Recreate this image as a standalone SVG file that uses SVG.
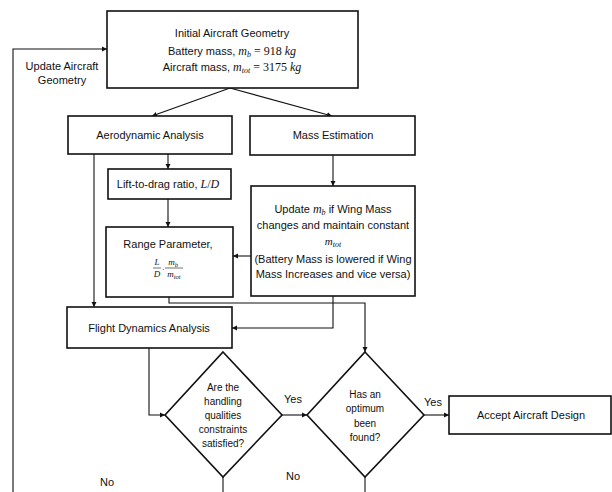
<svg xmlns="http://www.w3.org/2000/svg" width="612" height="492" viewBox="0 0 612 492">
<style>
.box{fill:#fff;stroke:#111;stroke-width:1.6}
.t{font-family:"Liberation Sans",Arial,sans-serif;font-size:11px;fill:#111;text-anchor:middle}
.s{font-size:10px}
.m{font-family:"Liberation Serif","Times New Roman",serif;font-style:italic}
.n{font-family:"Liberation Serif","Times New Roman",serif}
.f{font-family:"Liberation Serif","Times New Roman",serif;font-style:italic;font-size:9px;fill:#111;text-anchor:middle}
.c{fill:none;stroke:#111;stroke-width:1.1}
</style>
<defs>
<marker id="ah" markerUnits="userSpaceOnUse" markerWidth="6" markerHeight="6" refX="5" refY="3" orient="auto">
<path d="M0,0.5 L5,3 L0,5.5 z" fill="#111"/>
</marker>
</defs>
<rect width="612" height="492" fill="#fff"/>
<g id="connectors">
<path class="c" d="M230,88 L152,116" marker-end="url(#ah)"/>
<path class="c" d="M230,88 L332,116" marker-end="url(#ah)"/>
<path class="c" d="M168,154 L168,169" marker-end="url(#ah)"/>
<path class="c" d="M168,199 L168,227" marker-end="url(#ah)"/>
<path class="c" d="M94,154 L94,307" marker-end="url(#ah)"/>
<path class="c" d="M333,155 L333,186" marker-end="url(#ah)"/>
<path class="c" d="M251,256 L233,256" marker-end="url(#ah)"/>
<path class="c" d="M333,296 L333,328 L232,328" marker-end="url(#ah)"/>
<path class="c" d="M169,297 L169,303 L365,303 L365,352" marker-end="url(#ah)"/>
<path class="c" d="M149,348 L149,415 L165,415" marker-end="url(#ah)"/>
<path class="c" d="M282,415 L307,415" marker-end="url(#ah)"/>
<path class="c" d="M424,415 L449,415" marker-end="url(#ah)"/>
<path class="c" d="M223,477 L223,492"/>
<path class="c" d="M365,477 L365,492"/>
<path class="c" d="M13,492 L13,49 L107,49" marker-end="url(#ah)"/>
<text class="t" x="62" y="70">Update Aircraft</text>
<text class="t" x="62" y="84">Geometry</text>
<text class="t" x="293" y="403">Yes</text>
<text class="t" x="433" y="406">Yes</text>
<text class="t" x="107" y="486">No</text>
<text class="t" x="293" y="480">No</text>
</g>
<g id="initial">
<rect class="box" x="107" y="11" width="251" height="77"/>
<text class="t" x="232" y="37">Initial Aircraft Geometry</text>
<text class="t" x="232" y="55">Battery mass, <tspan class="m" font-size="12">m</tspan><tspan class="m" font-size="8" dy="2">b</tspan><tspan class="n" font-size="12" dy="-2"> = 918 </tspan><tspan class="m" font-size="12">kg</tspan></text>
<text class="t" x="232" y="71">Aircraft mass, <tspan class="m" font-size="12">m</tspan><tspan class="m" font-size="8" dy="2">tot</tspan><tspan class="n" font-size="12" dy="-2"> = 3175 </tspan><tspan class="m" font-size="12">kg</tspan></text>
</g>
<g id="aero">
<rect class="box" x="68" y="116" width="164" height="38"/>
<text class="t" x="150" y="139">Aerodynamic Analysis</text>
</g>
<g id="mass">
<rect class="box" x="250" y="116" width="165" height="39"/>
<text class="t" x="333" y="139">Mass Estimation</text>
</g>
<g id="lift">
<rect class="box" x="108" y="169" width="123" height="30"/>
<text class="t" x="168" y="188">Lift-to-drag ratio, <tspan class="m" font-size="12">L</tspan><tspan class="n" font-size="12">/</tspan><tspan class="m" font-size="12">D</tspan></text>
</g>
<g id="range">
<rect class="box" x="106" y="227" width="127" height="70"/>
<text class="t" x="168" y="248">Range Parameter,</text>
<text class="f" x="157" y="265">L</text>
<line x1="153" y1="268" x2="161" y2="268" stroke="#111" stroke-width="0.6"/>
<text class="f" x="157" y="277">D</text>
<text class="f" x="163" y="272" font-style="normal">·</text>
<text class="f" x="173" y="265">m<tspan font-size="6.5" dy="1.5">b</tspan></text>
<line x1="165" y1="268" x2="183" y2="268" stroke="#111" stroke-width="0.6"/>
<text class="f" x="174" y="277">m<tspan font-size="6.5" dy="1.5">tot</tspan></text>
</g>
<g id="update">
<rect class="box" x="251" y="186" width="164" height="110"/>
<text class="t" x="333" y="213">Update <tspan class="m" font-size="12">m</tspan><tspan class="m" font-size="8" dy="2">b</tspan><tspan dy="-2"> if Wing Mass</tspan></text>
<text class="t" x="333" y="229">changes and maintain constant</text>
<text class="t m" x="333" y="245" font-size="12">m<tspan font-size="8" dy="2">tot</tspan></text>
<text class="t" x="333" y="263">(Battery Mass is lowered if Wing</text>
<text class="t" x="333" y="278">Mass Increases and vice versa)</text>
</g>
<g id="fda">
<rect class="box" x="67" y="307" width="165" height="41"/>
<text class="t" x="149" y="332">Flight Dynamics Analysis</text>
</g>
<g id="d1">
<path class="box" d="M223,352 L282,415 L223,477 L165,415 Z"/>
<text class="t s" x="223" y="391">Are the</text>
<text class="t s" x="223" y="405">handling</text>
<text class="t s" x="223" y="419">qualities</text>
<text class="t s" x="223" y="433">constraints</text>
<text class="t s" x="223" y="447">satisfied?</text>
</g>
<g id="d2">
<path class="box" d="M365,352 L424,415 L365,477 L307,415 Z"/>
<text class="t s" x="365" y="398">Has an</text>
<text class="t s" x="365" y="412">optimum</text>
<text class="t s" x="365" y="427">been</text>
<text class="t s" x="365" y="441">found?</text>
</g>
<g id="accept">
<rect class="box" x="449" y="396" width="162" height="38"/>
<text class="t" x="531" y="419">Accept Aircraft Design</text>
</g>
</svg>
